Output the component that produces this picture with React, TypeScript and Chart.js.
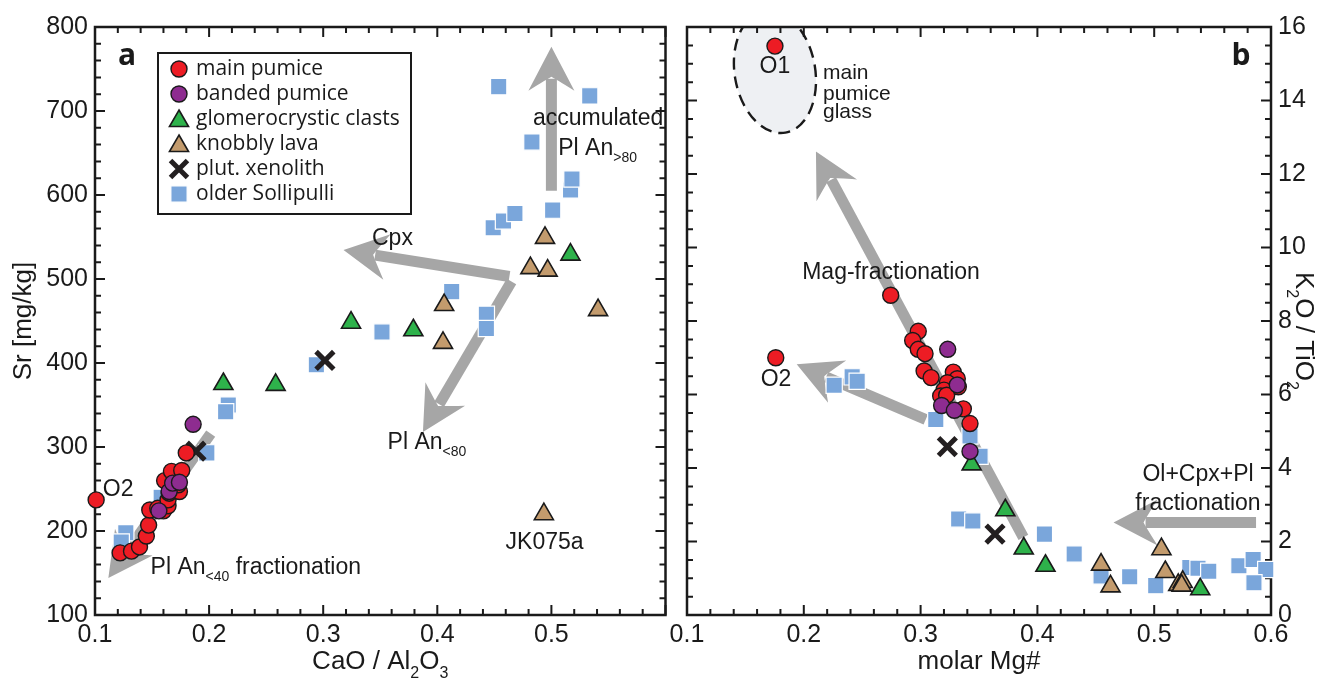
import { useEffect, useRef } from "react";
import { Chart, registerables } from "chart.js";

Chart.register(...registerables);

type Pt = [number, number];

// ---------- panel a : CaO/Al2O3 vs Sr [mg/kg] ----------
const mainPumiceA: Pt[] = [
  [0.101, 237], [0.122, 174], [0.132, 176], [0.139, 181], [0.145, 194], [0.147, 207],
  [0.148, 225], [0.155, 227], [0.160, 224], [0.164, 230], [0.164, 237], [0.165, 245],
  [0.161, 260], [0.167, 271], [0.176, 272], [0.174, 247], [0.173, 255], [0.180, 293],
];
const bandedPumiceA: Pt[] = [[0.186, 327], [0.156, 224], [0.165, 247], [0.168, 257], [0.174, 258]];
const glomeroA: Pt[] = [[0.2125, 375], [0.2583, 374], [0.3244, 448], [0.379, 439], [0.5167, 529]];
const knobblyA: Pt[] = [
  [0.4944, 549], [0.4816, 513], [0.4967, 510], [0.406, 469], [0.405, 424], [0.5409, 463], [0.4934, 220],
];
const xenolithA: Pt[] = [[0.1885, 295], [0.3015, 403]];
const sollipulliA: Pt[] = [
  [0.127, 198], [0.123, 187], [0.198, 293], [0.2168, 350], [0.2145, 342], [0.158, 240],
  [0.294, 398], [0.3515, 437], [0.4126, 485], [0.443, 458], [0.443, 441], [0.449, 561],
  [0.458, 569], [0.468, 578], [0.5011, 582], [0.5168, 606], [0.518, 619], [0.4829, 663],
  [0.4538, 729], [0.5336, 718],
];

// ---------- panel b : molar Mg# vs K2O/TiO2 ----------
const mainPumiceB: Pt[] = [
  [0.1753, 15.48], [0.176, 7.0], [0.2744, 8.70], [0.298, 7.72], [0.2932, 7.47], [0.298, 7.23],
  [0.3038, 7.11], [0.303, 6.64], [0.309, 6.46], [0.328, 6.61], [0.3314, 6.43], [0.3323, 6.21],
  [0.3229, 6.32], [0.320, 6.12], [0.3172, 5.96], [0.3223, 5.98], [0.3366, 5.61], [0.3423, 5.21],
];
const bandedPumiceB: Pt[] = [[0.3232, 7.23], [0.3314, 6.26], [0.318, 5.70], [0.3289, 5.57], [0.3423, 4.45]];
const glomeroB: Pt[] = [[0.3437, 4.10], [0.3725, 2.85], [0.3883, 1.81], [0.4069, 1.34], [0.5394, 0.70]];
const knobblyB: Pt[] = [
  [0.4545, 1.37], [0.4626, 0.78], [0.5062, 1.79], [0.5095, 1.17], [0.5206, 0.82], [0.5244, 0.90], [0.5235, 0.80],
];
const xenolithB: Pt[] = [[0.3229, 4.58], [0.3637, 2.20]];
const sollipulliB: Pt[] = [
  [0.226, 6.25], [0.2414, 6.48], [0.2457, 6.36], [0.3130, 5.32], [0.3423, 4.87], [0.3509, 4.32],
  [0.3326, 2.61], [0.3447, 2.56], [0.406, 2.20], [0.4315, 1.66], [0.4545, 1.06], [0.479, 1.04],
  [0.5013, 0.80], [0.5305, 1.29], [0.5375, 1.27], [0.5467, 1.19], [0.5725, 1.34], [0.5847, 1.51],
  [0.5955, 1.24], [0.5854, 0.88],
];

// ---------- axis ticks ----------
const xTicksA = [0.1, 0.2, 0.3, 0.4, 0.5];
const yTicksA = [100, 200, 300, 400, 500, 600, 700, 800];
const xTicksB = [0.1, 0.2, 0.3, 0.4, 0.5, 0.6];
const yTicksB = [0, 2, 4, 6, 8, 10, 12, 14, 16];

// ---------- styling ----------
const SANS = "'Liberation Sans', Arial, Helvetica, sans-serif";
const LEGEND_FONT = "'Open Sans', 'Noto Sans', sans-serif";
const INK = "#1a1a1a";
const ARROW_GREY = "#a6a6a6";
const TICK_SIZE = 25;
const TITLE_SIZE = 26;
const NOTE_SIZE = 23;

type Marker = "circle" | "triangle" | "rect" | "crossRot";
type SeriesStyle = {
  label: string;
  marker: Marker;
  radius: number;
  fill: string;
  stroke: string;
  width: number;
  order: number;
};

const seriesStyles: SeriesStyle[] = [
  { label: "main pumice", marker: "circle", radius: 8, fill: "#ed1c24", stroke: INK, width: 1.4, order: 1 },
  { label: "banded pumice", marker: "circle", radius: 8, fill: "#8e2c90", stroke: INK, width: 1.4, order: 0 },
  { label: "glomerocrystic clasts", marker: "triangle", radius: 11, fill: "#2eb24b", stroke: INK, width: 1.6, order: 3 },
  { label: "knobbly lava", marker: "triangle", radius: 11, fill: "#c39b6d", stroke: INK, width: 1.6, order: 4 },
  { label: "plut. xenolith", marker: "crossRot", radius: 12.5, fill: "#231f20", stroke: "#231f20", width: 5, order: 2 },
  { label: "older Sollipulli", marker: "rect", radius: 11.5, fill: "#7aa6db", stroke: "#ffffff", width: 1.2, order: 5 },
];

const panelASeries = [mainPumiceA, bandedPumiceA, glomeroA, knobblyA, xenolithA, sollipulliA];
const panelBSeries = [mainPumiceB, bandedPumiceB, glomeroB, knobblyB, xenolithB, sollipulliB];

type Part = { t: string; sub?: boolean };
type Note = { x: number; y: number; parts: Part[]; align: CanvasTextAlign; size?: number };
type Arrow = { from: Pt; to: Pt };

// annotation anchors are in data units of each panel
const notesA: Note[] = [
  { x: 0.1068, y: 251, parts: [{ t: "O2" }], align: "left" },
  { x: 0.1487, y: 159, parts: [{ t: "Pl An" }, { t: "<40", sub: true }, { t: " fractionation" }], align: "left" },
  { x: 0.494, y: 188, parts: [{ t: "JK075a" }], align: "center" },
  { x: 0.3607, y: 550, parts: [{ t: "Cpx" }], align: "center" },
  { x: 0.3564, y: 308, parts: [{ t: "Pl An" }, { t: "<80", sub: true }], align: "left" },
  { x: 0.4838, y: 693, parts: [{ t: "accumulated" }], align: "left" },
  { x: 0.506, y: 658, parts: [{ t: "Pl An" }, { t: ">80", sub: true }], align: "left" },
];
const arrowsA: Arrow[] = [
  { from: [0.2014, 316], to: [0.1117, 144] },
  { from: [0.4632, 503], to: [0.3178, 534.5] },
  { from: [0.465, 497], to: [0.3874, 318] },
  { from: [0.5, 605], to: [0.5, 776.5] },
];

const notesB: Note[] = [
  { x: 0.1753, y: 14.97, parts: [{ t: "O1" }], align: "center" },
  { x: 0.2164, y: 14.78, parts: [{ t: "main" }], align: "left", size: 21 },
  { x: 0.2164, y: 14.23, parts: [{ t: "pumice" }], align: "left", size: 21 },
  { x: 0.2164, y: 13.72, parts: [{ t: "glass" }], align: "left", size: 21 },
  { x: 0.2747, y: 9.37, parts: [{ t: "Mag-fractionation" }], align: "center" },
  { x: 0.1762, y: 6.46, parts: [{ t: "O2" }], align: "center" },
  { x: 0.5375, y: 3.88, parts: [{ t: "Ol+Cpx+Pl" }], align: "center" },
  { x: 0.5375, y: 3.09, parts: [{ t: "fractionation" }], align: "center" },
];
const arrowsB: Arrow[] = [
  { from: [0.388, 2.11], to: [0.2104, 12.61] },
  { from: [0.3044, 5.32], to: [0.1939, 6.82] },
  { from: [0.5872, 2.52], to: [0.4652, 2.52] },
];
// glass field: centre, semi-axes (data units), tilt
const glassField = { cx: 0.1753, cy: 14.78, rx: 0.0345, ry: 1.68, tilt: -0.17 };

// ---------- drawing helpers ----------
function drawMarker(ctx: CanvasRenderingContext2D, s: SeriesStyle, x: number, y: number) {
  const r = s.radius;
  ctx.save();
  ctx.beginPath();
  if (s.marker === "circle") {
    ctx.arc(x, y, r, 0, Math.PI * 2);
  } else if (s.marker === "triangle") {
    for (let i = 0; i < 3; i++) {
      const a = (i * 2 * Math.PI) / 3;
      const px = x + Math.sin(a) * r;
      const py = y - Math.cos(a) * r;
      if (i === 0) ctx.moveTo(px, py);
      else ctx.lineTo(px, py);
    }
    ctx.closePath();
  } else if (s.marker === "rect") {
    const h = r * Math.SQRT1_2;
    ctx.rect(x - h, y - h, 2 * h, 2 * h);
  } else {
    const h = r * Math.SQRT1_2;
    ctx.moveTo(x - h, y - h);
    ctx.lineTo(x + h, y + h);
    ctx.moveTo(x + h, y - h);
    ctx.lineTo(x - h, y + h);
  }
  if (s.marker !== "crossRot") {
    ctx.fillStyle = s.fill;
    ctx.fill();
  }
  ctx.lineWidth = s.width;
  ctx.strokeStyle = s.stroke;
  ctx.stroke();
  ctx.restore();
}

function drawRich(
  ctx: CanvasRenderingContext2D,
  parts: Part[],
  x: number,
  y: number,
  align: CanvasTextAlign,
  size: number,
  family: string
) {
  const subSize = Math.round(size * 0.62);
  const widths = parts.map((p) => {
    ctx.font = `${p.sub ? subSize : size}px ${family}`;
    return ctx.measureText(p.t).width;
  });
  const total = widths.reduce((a, b) => a + b, 0);
  let cx = align === "center" ? x - total / 2 : align === "right" ? x - total : x;
  ctx.save();
  ctx.textAlign = "left";
  ctx.textBaseline = "alphabetic";
  ctx.fillStyle = INK;
  const base = y + size * 0.36;
  parts.forEach((p, i) => {
    ctx.font = `${p.sub ? subSize : size}px ${family}`;
    ctx.fillText(p.t, cx, p.sub ? base + size * 0.32 : base);
    cx += widths[i];
  });
  ctx.restore();
}

function drawArrow(ctx: CanvasRenderingContext2D, sx: number, sy: number, tx: number, ty: number) {
  const dx = tx - sx;
  const dy = ty - sy;
  const len = Math.hypot(dx, dy);
  const ux = dx / len;
  const uy = dy / len;
  const nx = -uy;
  const ny = ux;
  const headLen = 44;
  const halfW = 23;
  const notch = 30;
  ctx.save();
  ctx.strokeStyle = ARROW_GREY;
  ctx.fillStyle = ARROW_GREY;
  ctx.lineWidth = 11;
  ctx.lineCap = "butt";
  ctx.beginPath();
  ctx.moveTo(sx, sy);
  ctx.lineTo(tx - ux * (notch + 2), ty - uy * (notch + 2));
  ctx.stroke();
  ctx.beginPath();
  ctx.moveTo(tx, ty);
  ctx.lineTo(tx - ux * headLen + nx * halfW, ty - uy * headLen + ny * halfW);
  ctx.quadraticCurveTo(
    tx - ux * (notch + 2) + nx * 4,
    ty - uy * (notch + 2) + ny * 4,
    tx - ux * notch,
    ty - uy * notch
  );
  ctx.quadraticCurveTo(
    tx - ux * (notch + 2) - nx * 4,
    ty - uy * (notch + 2) - ny * 4,
    tx - ux * headLen - nx * halfW,
    ty - uy * headLen - ny * halfW
  );
  ctx.closePath();
  ctx.fill();
  ctx.restore();
}

type PanelDecor = {
  notes: Note[];
  arrows: Arrow[];
  letter: { text: string; side: "left" | "right" };
  xMinor: number;
  xMajor: number;
  yMinor: number;
  yMajor: number;
  xTitle: Part[];
  yTitle: Part[];
  yTitleSide: "left" | "right";
  legend: boolean;
  field?: typeof glassField;
};

function makeDecor(d: PanelDecor) {
  return {
    id: "panelDecor",
    beforeDatasetsDraw(chart: any) {
      const ctx: CanvasRenderingContext2D = chart.ctx;
      const { left, right, top, bottom } = chart.chartArea;
      const xs = chart.scales.x;
      const ys = chart.scales.y;
      // glass field
      if (d.field) {
        const f = d.field;
        const cx = xs.getPixelForValue(f.cx);
        const cy = ys.getPixelForValue(f.cy);
        const rx = Math.abs(xs.getPixelForValue(f.cx + f.rx) - cx);
        const ry = Math.abs(ys.getPixelForValue(f.cy + f.ry) - cy);
        ctx.save();
        ctx.beginPath();
        ctx.rect(left, top, right - left, bottom - top);
        ctx.clip();
        ctx.beginPath();
        ctx.ellipse(cx, cy, rx, ry, f.tilt, 0, Math.PI * 2);
        ctx.fillStyle = "#eef0f3";
        ctx.fill();
        ctx.setLineDash([12, 7]);
        ctx.lineWidth = 2.4;
        ctx.strokeStyle = INK;
        ctx.stroke();
        ctx.restore();
      }
      // trend arrows
      d.arrows.forEach((a) => {
        drawArrow(
          ctx,
          xs.getPixelForValue(a.from[0]),
          ys.getPixelForValue(a.from[1]),
          xs.getPixelForValue(a.to[0]),
          ys.getPixelForValue(a.to[1])
        );
      });
      // frame and inward ticks on all four sides
      ctx.save();
      ctx.strokeStyle = INK;
      ctx.lineWidth = 2;
      const eps = 1e-6;
      for (let v = xs.min; v <= xs.max + eps; v += d.xMinor) {
        const p = xs.getPixelForValue(v);
        const major = Math.abs(v / d.xMajor - Math.round(v / d.xMajor)) < 1e-3;
        const L = major ? 10 : 6;
        ctx.beginPath();
        ctx.moveTo(p, bottom);
        ctx.lineTo(p, bottom - L);
        ctx.moveTo(p, top);
        ctx.lineTo(p, top + L);
        ctx.stroke();
      }
      for (let v = ys.min; v <= ys.max + eps; v += d.yMinor) {
        const p = ys.getPixelForValue(v);
        const major = Math.abs(v / d.yMajor - Math.round(v / d.yMajor)) < 1e-3;
        const L = major ? 10 : 6;
        ctx.beginPath();
        ctx.moveTo(left, p);
        ctx.lineTo(left + L, p);
        ctx.moveTo(right, p);
        ctx.lineTo(right - L, p);
        ctx.stroke();
      }
      ctx.lineWidth = 2.5;
      ctx.strokeRect(left, top, right - left, bottom - top);
      ctx.restore();
    },
    afterDatasetsDraw(chart: any) {
      const ctx: CanvasRenderingContext2D = chart.ctx;
      const { left, right, top, bottom } = chart.chartArea;
      const xs = chart.scales.x;
      const ys = chart.scales.y;
      d.notes.forEach((n) => {
        drawRich(ctx, n.parts, xs.getPixelForValue(n.x), ys.getPixelForValue(n.y), n.align, n.size ?? NOTE_SIZE, SANS);
      });
      // panel letter
      ctx.save();
      ctx.font = `bold 30px ${LEGEND_FONT}`;
      ctx.fillStyle = INK;
      ctx.textBaseline = "middle";
      ctx.textAlign = "center";
      ctx.fillText(d.letter.text, d.letter.side === "left" ? left + 32 : right - 30, top + 29);
      ctx.restore();
      // legend
      if (d.legend) {
        const lx = left + 63;
        const ly = top + 26;
        const lw = 253;
        const lh = 161;
        ctx.save();
        ctx.fillStyle = "#ffffff";
        ctx.fillRect(lx, ly, lw, lh);
        ctx.lineWidth = 2;
        ctx.strokeStyle = INK;
        ctx.strokeRect(lx, ly, lw, lh);
        ctx.font = `21px ${LEGEND_FONT}`;
        ctx.textBaseline = "middle";
        ctx.textAlign = "left";
        seriesStyles.forEach((s, i) => {
          const ry = ly + 16 + i * 25;
          const ms = s.marker === "crossRot" ? { ...s, radius: 12 } : s;
          drawMarker(ctx, ms, lx + 21, s.marker === "triangle" ? ry + 2 : ry);
          ctx.fillStyle = INK;
          ctx.fillText(s.label, lx + 38, ry);
        });
        ctx.restore();
      }
      // axis titles
      const cxMid = (left + right) / 2;
      drawRich(ctx, d.xTitle, cxMid, bottom + 45, "center", TITLE_SIZE, SANS);
      ctx.save();
      const cyMid = (top + bottom) / 2;
      if (d.yTitleSide === "left") {
        ctx.translate(left - 73, cyMid);
        ctx.rotate(-Math.PI / 2);
      } else {
        ctx.translate(right + 34, cyMid + 10);
        ctx.rotate(Math.PI / 2);
      }
      drawRich(ctx, d.yTitle, 0, 0, "center", TITLE_SIZE, SANS);
      ctx.restore();
    },
  };
}

function buildDatasets(series: Pt[][]) {
  return series.map((pts, i) => {
    const s = seriesStyles[i];
    return {
      label: s.label,
      data: pts.map(([x, y]) => ({ x, y })),
      pointStyle: s.marker,
      pointRadius: s.radius,
      pointHoverRadius: s.radius,
      pointBackgroundColor: s.fill,
      pointBorderColor: s.stroke,
      pointBorderWidth: s.width,
      pointHoverBorderWidth: s.width,
      showLine: false,
      clip: false as any,
      order: s.order,
    };
  });
}

const tickFont = { family: SANS, size: TICK_SIZE };

function axisX(values: number[], height: number) {
  return {
    type: "linear" as const,
    min: 0.1,
    max: 0.6,
    grid: { display: false, drawTicks: false },
    border: { display: false },
    afterBuildTicks: (s: any) => {
      s.ticks = values.map((v) => ({ value: v }));
    },
    afterFit: (s: any) => {
      s.height = height;
      s.paddingLeft = 0;
      s.paddingRight = 0;
    },
    ticks: {
      font: tickFont,
      color: INK,
      padding: 5,
      maxRotation: 0,
      autoSkip: false,
      callback: (v: any) => Number(v).toFixed(1),
    },
  };
}

function axisY(values: number[], min: number, max: number, width: number, position: "left" | "right") {
  return {
    type: "linear" as const,
    position,
    min,
    max,
    grid: { display: false, drawTicks: false },
    border: { display: false },
    afterBuildTicks: (s: any) => {
      s.ticks = values.map((v) => ({ value: v }));
    },
    afterFit: (s: any) => {
      s.width = width;
      s.paddingTop = 0;
      s.paddingBottom = 0;
    },
    ticks: {
      font: tickFont,
      color: INK,
      padding: 7,
      autoSkip: false,
      callback: (v: any) => String(v),
    },
  };
}

function PanelA() {
  const ref = useRef<HTMLCanvasElement | null>(null);
  useEffect(() => {
    if (!ref.current) return;
    const chart = new Chart(ref.current, {
      type: "scatter",
      data: { datasets: buildDatasets(panelASeries) as any },
      options: {
        responsive: true,
        maintainAspectRatio: false,
        animation: false,
        events: [],
        layout: { padding: { left: 0, right: 3, top: 27, bottom: 0 } },
        plugins: { legend: { display: false }, tooltip: { enabled: false } },
        scales: {
          x: axisX(xTicksA, 67),
          y: axisY(yTicksA, 100, 800, 95, "left"),
        } as any,
      },
      plugins: [
        makeDecor({
          notes: notesA,
          arrows: arrowsA,
          letter: { text: "a", side: "left" },
          xMinor: 0.02,
          xMajor: 0.1,
          yMinor: 20,
          yMajor: 100,
          xTitle: [{ t: "CaO / Al" }, { t: "2", sub: true }, { t: "O" }, { t: "3", sub: true }],
          yTitle: [{ t: "Sr [mg/kg]" }],
          yTitleSide: "left",
          legend: true,
        }) as any,
      ],
    });
    return () => chart.destroy();
  }, []);
  return (
    <div style={{ position: "absolute", left: 0, top: 0, width: 683, height: 682 }}>
      <canvas ref={ref} />
    </div>
  );
}

function PanelB() {
  const ref = useRef<HTMLCanvasElement | null>(null);
  useEffect(() => {
    if (!ref.current) return;
    const chart = new Chart(ref.current, {
      type: "scatter",
      data: { datasets: buildDatasets(panelBSeries) as any },
      options: {
        responsive: true,
        maintainAspectRatio: false,
        animation: false,
        events: [],
        layout: { padding: { left: 47, right: 0, top: 27, bottom: 0 } },
        plugins: { legend: { display: false }, tooltip: { enabled: false } },
        scales: {
          x: axisX(xTicksB, 67),
          y: axisY(yTicksB, 0, 16, 62, "right"),
        } as any,
      },
      plugins: [
        makeDecor({
          notes: notesB,
          arrows: arrowsB,
          letter: { text: "b", side: "right" },
          xMinor: 0.02,
          xMajor: 0.1,
          yMinor: 0.5,
          yMajor: 2,
          xTitle: [{ t: "molar Mg#" }],
          yTitle: [{ t: "K" }, { t: "2", sub: true }, { t: "O / TiO" }, { t: "2", sub: true }],
          yTitleSide: "right",
          legend: false,
          field: glassField,
        }) as any,
      ],
    });
    return () => chart.destroy();
  }, []);
  return (
    <div style={{ position: "absolute", left: 640, top: 0, width: 693, height: 682 }}>
      <canvas ref={ref} />
    </div>
  );
}

export default function App() {
  return (
    <div style={{ position: "absolute", left: 0, top: 0, width: 1333, height: 682, background: "#ffffff" }}>
      <PanelA />
      <PanelB />
    </div>
  );
}
